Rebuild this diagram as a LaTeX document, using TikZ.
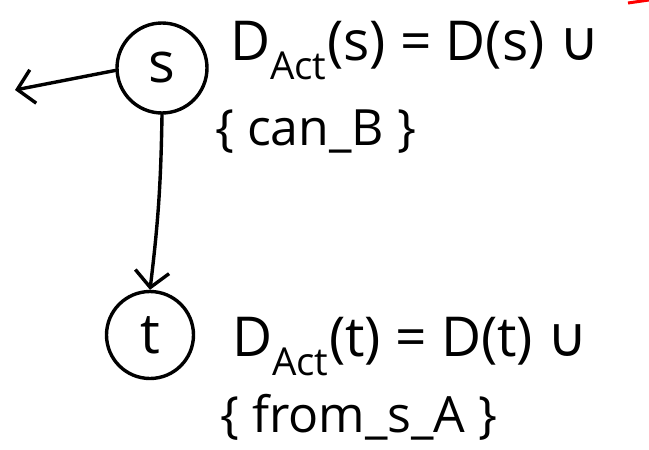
\documentclass[tikz,border=0pt]{standalone}
\usepackage{fontspec}
\setmainfont{Open Sans}
\newfontfamily\symbfont{DejaVu Sans}
\usetikzlibrary{arrows.meta}
\begin{document}
\begin{tikzpicture}[x=1pt,y=-1pt,
  pen/.style={line width=3.4pt, line cap=round, line join=round},
  statenode/.style={pen, draw, circle, inner sep=0pt, font=\fontsize{56}{60}\selectfont},
  eqtext/.style={anchor=base west, inner sep=0pt, font=\fontsize{55}{60}\selectfont},
  settext/.style={anchor=base west, inner sep=0pt, font=\fontsize{50}{56}\selectfont},
  barb/.style={-{Straight Barb[length=16pt,width=34pt,line width=3.4pt]}}]
\useasboundingbox (0,0) rectangle (649,450);
\node[statenode, minimum size=90pt] (s) at (162,68) {s};
\node[statenode, minimum size=87pt] (t) at (150,335) {t};
\coordinate (L) at (15,90);
\draw[pen, barb] (s.183) -- (L);
\draw[pen, barb] (s.south) to[bend left=3] (t.north);
\node[eqtext] (e1) at (230,60) {D\textsubscript{Act}(s) = D(s) {\symbfont ∪}};
\node[settext] (e2) at (215,145) {\{ can\_B \}};
\node[eqtext] (e3) at (232,356) {D\textsubscript{Act}(t) = D(t) {\symbfont ∪}};
\node[settext] (e4) at (220,432) {\{ from\_s\_A \}};
\draw[red, line width=3pt] (628,3) -- (649,0);
\end{tikzpicture}
\end{document}
